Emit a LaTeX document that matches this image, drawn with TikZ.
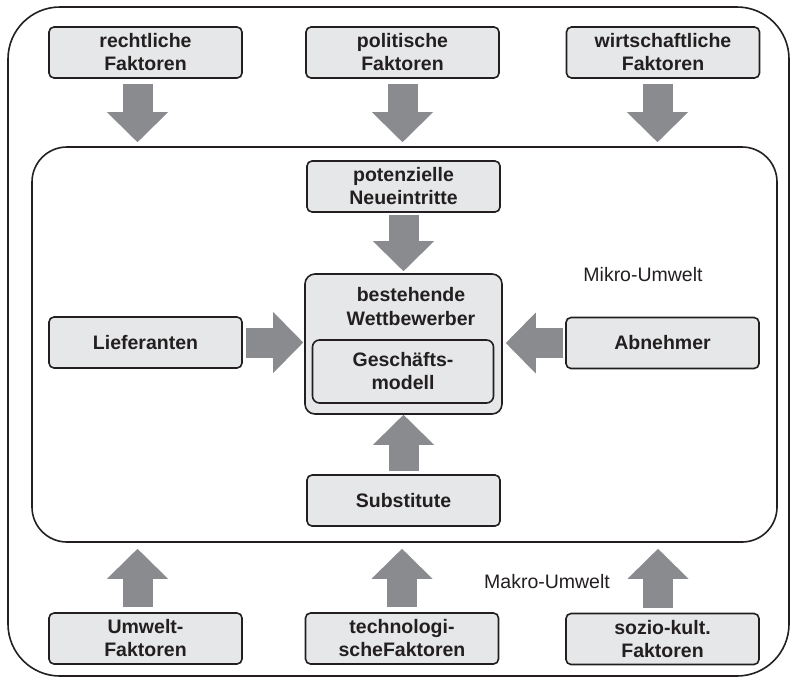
\documentclass[tikz,border=0pt]{standalone}
\usepackage{fontspec}
\setmainfont{Liberation Sans}
\usetikzlibrary{arrows.meta}
\definecolor{boxfill}{RGB}{230,231,232}
\definecolor{ink}{RGB}{35,31,32}
\definecolor{arrowgray}{RGB}{138,139,142}

\begin{document}
\begin{tikzpicture}[x=1pt,y=-1pt,
  factor/.style={draw=ink, line width=1.6pt, fill=boxfill, rounded corners=5pt,
    minimum width=193pt, minimum height=51pt, inner sep=0pt, align=center,
    font=\fontsize{19.5}{23}\selectfont\bfseries, text=ink},
  frame/.style={draw=ink, line width=1.6pt, inner sep=0pt},
  blk/.style={draw=arrowgray, line width=30pt,
    -{Triangle[width=61pt,length=30pt,line width=0pt]}},
  lbl/.style={font=\fontsize{19.5}{23}\selectfont, text=ink, align=center}
]
\useasboundingbox (0,0) rectangle (791,678);

% environment frames
\node[frame, rounded corners=52pt, minimum width=781pt, minimum height=669pt] (macro) at (398.5,341.5) {};
\node[frame, rounded corners=35pt, minimum width=745pt, minimum height=395pt] (micro) at (404.5,344.5) {};

% macro factors
\node[factor] (rf) at (145.5,52.5) {rechtliche\\Faktoren};
\node[factor] (pf) at (402.5,52.5) {politische\\Faktoren};
\node[factor] (wf) at (663,52.5) {wirtschaftliche\\Faktoren};
\node[factor] (uf) at (145.5,638.5) {Umwelt-\\Faktoren};
\node[factor] (tf) at (402,638.5) {technologi-\\scheFaktoren};
\node[factor] (sf) at (662.5,639) {sozio-kult.\\Faktoren};

% five forces
\node[factor] (pn) at (403.5,186.5) {potenzielle\\Neueintritte};
\node[factor] (lf) at (145.5,342.5) {Lieferanten};
\node[factor] (ab) at (662.5,343) {Abnehmer};
\node[factor] (sb) at (403.5,500.5) {Substitute};
\node[factor, rounded corners=10pt, minimum width=197pt, minimum height=140pt] (comp) at (403.5,344) {};
\node[lbl, font=\fontsize{19.5}{24}\selectfont\bfseries] (bw) at (411,307) {bestehende\\Wettbewerber};
\node[factor, rounded corners=7pt, minimum width=181pt, minimum height=63pt] (gm) at (403,371.5) {Geschäfts-\\modell};

% labels
\node[lbl] (mik) at (643,275) {Mikro-Umwelt};
\node[lbl] (mak) at (547,582) {Makro-Umwelt};

% influences of the macro environment
\draw[blk, shorten >=4pt] ([xshift=-8pt,yshift=-5pt]rf.south) -- ([xshift=-8pt]rf.south |- micro.north);
\draw[blk, shorten >=4pt] ([yshift=-5pt]pf.south) -- (pf.south |- micro.north);
\draw[blk, shorten >=4pt] ([xshift=-5.5pt,yshift=-5pt]wf.south) -- ([xshift=-5.5pt]wf.south |- micro.north);
\draw[blk, shorten >=6pt] ([xshift=-8pt,yshift=5pt]uf.north) -- ([xshift=-8pt]uf.north |- micro.south);
\draw[blk, shorten >=6pt] ([yshift=5pt]tf.north) -- (tf.north |- micro.south);
\draw[blk, shorten >=6pt] ([xshift=-4.5pt,yshift=5pt]sf.north) -- ([xshift=-4.5pt]sf.north |- micro.south);

% forces acting on the competitors
\draw[blk, shorten >=2pt] ([yshift=-2pt]pn.south) -- (pn.south |- comp.north);
\draw[blk, shorten >=1pt] ([xshift=3pt]lf.east) -- (comp.west |- lf.east);
\draw[blk, shorten >=3pt] ([xshift=-2pt]ab.west) -- (comp.east |- ab.west);
\draw[blk, shorten >=0pt] ([yshift=3pt]sb.north) -- (sb.north |- comp.south);
\end{tikzpicture}
\end{document}
